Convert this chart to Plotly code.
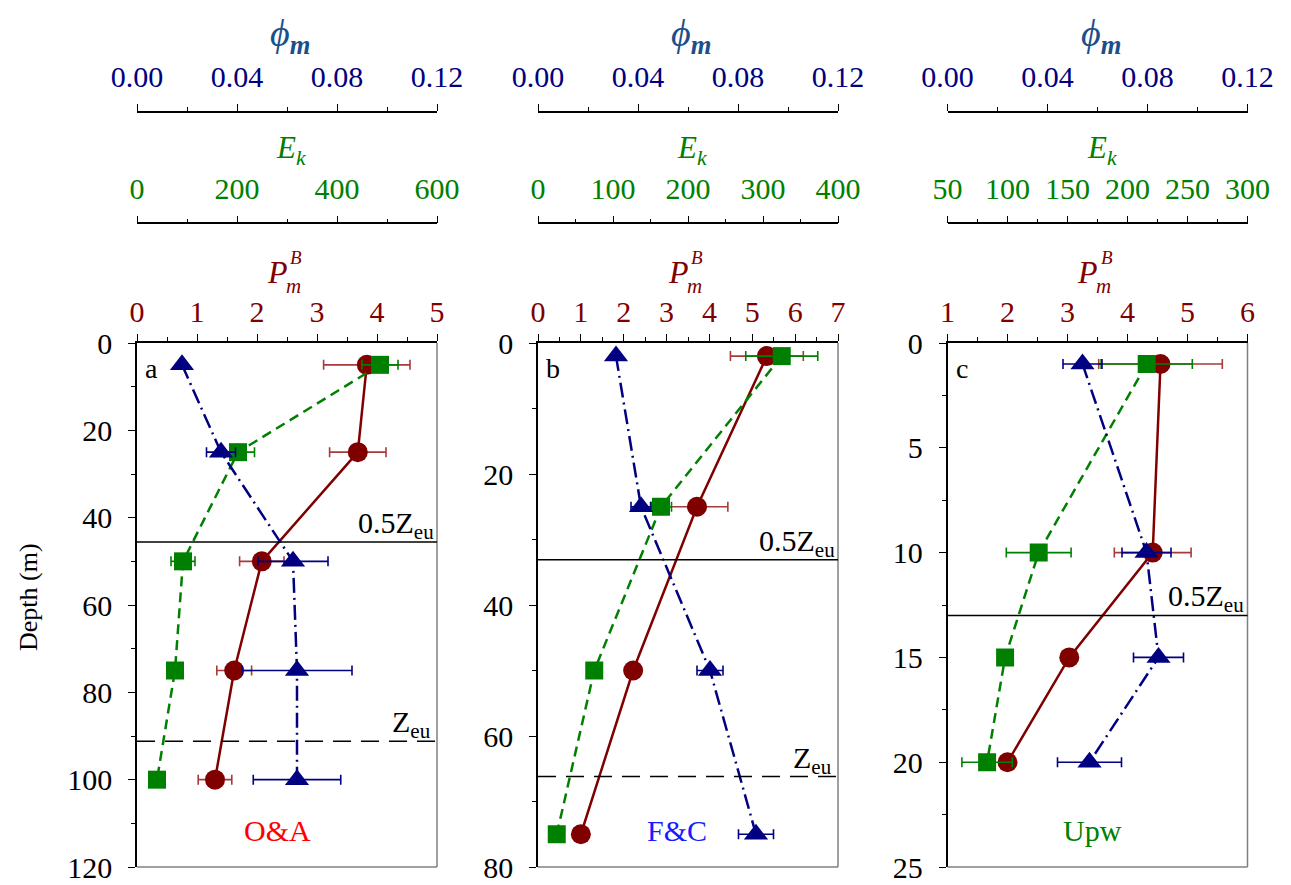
import plotly.graph_objects as go

# ---------------- data ----------------
# Panel a (O&A)
depth_a = [5, 25, 50, 75, 100]
pb_a = [3.83, 3.68, 2.08, 1.62, 1.30]
pb_a_err = [0.72, 0.47, 0.37, 0.29, 0.28]
ek_a = [486, 202, 92, 76, 40]
ek_a_err = [36, 33, 24, 0, 0]
phi_a = [0.018, 0.0336, 0.0624, 0.064, 0.064]
phi_a_err = [0, 0.0058, 0.014, 0.022, 0.0175]
zeu_a = 91.2

# Panel b (F&C)
depth_b = [2, 25, 50, 75]
pb_b = [5.34, 3.71, 2.22, 1.00]
pb_b_err = [0.85, 0.72, 0, 0]
ek_b = [325, 164, 75, 25]
ek_b_err = [48, 14, 0, 0]
phi_b = [0.0312, 0.0412, 0.0688, 0.0872]
phi_b_err = [0.0012, 0.004, 0.0052, 0.007]
zeu_b = 66.2

# Panel c (Upw)
depth_c = [1, 10, 15, 20]
pb_c = [4.55, 4.42, 3.03, 2.00]
pb_c_err = [1.03, 0.64, 0, 0]
ek_c = [216, 126, 98, 83]
ek_c_err = [38, 27, 0, 21]
phi_c = [0.054, 0.0796, 0.0844, 0.0568]
phi_c_err = [0.0078, 0.0098, 0.010, 0.0128]
zeu_c = 26.0

panel_letters = ["a", "b", "c"]
panel_names = ["O&A", "F&C", "Upw"]

# ---------------- style ----------------
W, H = 1291, 885
FONT = "Liberation Serif"
RED, GREEN, BLUE = "#800000", "#008000", "#000080"
RED_ERR = "#a83a3a"
TICK_SIZE = 30

def px(x):
    return x / W

def py(y):
    return 1 - y / H

panels = [
    dict(depth=depth_a, pb=pb_a, pbe=pb_a_err, ek=ek_a, eke=ek_a_err, phi=phi_a, phie=phi_a_err,
         zeu=zeu_a, x0=137, x1=437, prange=[0, 5], erange=[0, 600], edtick=200, eminor=100,
         yrange=[120, 0], ydtick=20, yminor=10, name_color="#ff0000", name_x=0.467),
    dict(depth=depth_b, pb=pb_b, pbe=pb_b_err, ek=ek_b, eke=ek_b_err, phi=phi_b, phie=phi_b_err,
         zeu=zeu_b, x0=538, x1=838, prange=[0, 7], erange=[0, 400], edtick=100, eminor=50,
         yrange=[80, 0], ydtick=20, yminor=10, name_color="#1a1aff", name_x=0.463),
    dict(depth=depth_c, pb=pb_c, pbe=pb_c_err, ek=ek_c, eke=ek_c_err, phi=phi_c, phie=phi_c_err,
         zeu=zeu_c, x0=947.5, x1=1247.5, prange=[1, 6], erange=[50, 300], edtick=50, eminor=25,
         yrange=[25, 0], ydtick=5, yminor=2.5, name_color="#008000", name_x=0.483),
]

ydom = [18 / H, 1 - 343 / H]
EK_POS = 1 - 223.3 / H
PHI_POS = 1 - 111.7 / H

fig = go.Figure()
layout = dict(
    width=W, height=H, margin=dict(l=0, r=0, t=0, b=0, autoexpand=False),
    paper_bgcolor="white", plot_bgcolor="white", showlegend=False,
    font=dict(family=FONT, size=28, color="black"),
)
annotations = []
shapes = []

def axid(n):
    return "x" if n == 1 else f"x{n}"

for k, p in enumerate(panels):
    b = 3 * k + 1
    xa, xe, xp = axid(b), axid(b + 1), axid(b + 2)
    ya = "y" if k == 0 else f"y{k + 1}"
    dom = [px(p["x0"]), px(p["x1"])]

    fig.add_trace(go.Scatter(
        x=p["pb"], y=p["depth"], xaxis=xa, yaxis=ya, mode="lines+markers",
        line=dict(color=RED, width=2.5),
        marker=dict(symbol="circle", size=20, color=RED),
        error_x=dict(type="data", array=p["pbe"], color=RED_ERR, thickness=1.6, width=5),
    ))
    fig.add_trace(go.Scatter(
        x=p["ek"], y=p["depth"], xaxis=xe, yaxis=ya, mode="lines+markers",
        line=dict(color=GREEN, width=2.5, dash="10px,6px"),
        marker=dict(symbol="square", size=18, color=GREEN),
        error_x=dict(type="data", array=p["eke"], color=GREEN, thickness=1.6, width=5),
    ))
    fig.add_trace(go.Scatter(
        x=p["phi"], y=p["depth"], xaxis=xp, yaxis=ya, mode="lines+markers",
        line=dict(color=BLUE, width=2.5, dash="15px,5px,2px,5px"),
        marker=dict(symbol="triangle-up", size=21, color=BLUE),
        error_x=dict(type="data", array=p["phie"], color=BLUE, thickness=1.6, width=5),
    ))

    common = dict(domain=dom, side="top", showline=True, linecolor="black", linewidth=1.5,
                  ticks="outside", tickcolor="black", ticklen=7, tickwidth=1.3,
                  automargin=False, showgrid=False, zeroline=False, fixedrange=True)
    lay_x = "xaxis" if b == 1 else f"xaxis{b}"
    layout[lay_x] = dict(common, anchor=ya, range=p["prange"], dtick=1, tick0=0,
                         ticklabelstandoff=0,
                         tickfont=dict(family=FONT, color=RED, size=TICK_SIZE),
                         minor=dict(dtick=0.5, ticklen=4, ticks="outside", tickcolor="black", showgrid=False))
    layout[f"xaxis{b + 1}"] = dict(common, anchor="free", overlaying=xa, position=EK_POS,
                                   range=p["erange"], dtick=p["edtick"], tick0=0,
                                   ticklabelstandoff=5,
                                   tickfont=dict(family=FONT, color=GREEN, size=TICK_SIZE),
                                   minor=dict(dtick=p["eminor"], ticklen=4, ticks="outside",
                                              tickcolor="black", showgrid=False))
    layout[f"xaxis{b + 2}"] = dict(common, anchor="free", overlaying=xa, position=PHI_POS,
                                   range=[0, 0.12], dtick=0.04, tick0=0, tickformat=".2f",
                                   ticklabelstandoff=5,
                                   tickfont=dict(family=FONT, color=BLUE, size=TICK_SIZE),
                                   minor=dict(dtick=0.02, ticklen=4, ticks="outside",
                                              tickcolor="black", showgrid=False))
    lay_y = "yaxis" if k == 0 else f"yaxis{k + 1}"
    layout[lay_y] = dict(domain=ydom, anchor=xa, range=p["yrange"], dtick=p["ydtick"], tick0=0,
                         showline=True, linecolor="black", linewidth=1.5,
                         ticks="outside", tickcolor="black", ticklen=7, tickwidth=1.3,
                         ticklabelstandoff=10, automargin=False,
                         minor=dict(dtick=p["yminor"], ticklen=4, ticks="outside", tickcolor="black",
                                    showgrid=False),
                         showgrid=False, zeroline=False, fixedrange=True,
                         tickfont=dict(family=FONT, color="black", size=TICK_SIZE))

    # right & bottom frame (grey)
    shapes.append(dict(type="line", xref=f"{xa} domain", yref=f"{ya} domain",
                       x0=1, x1=1, y0=0, y1=1, line=dict(color="#808080", width=1.5)))
    shapes.append(dict(type="line", xref=f"{xa} domain", yref=f"{ya} domain",
                       x0=0, x1=1, y0=0, y1=0, line=dict(color="#808080", width=1.5)))
    # euphotic lines
    half = p["zeu"] / 2
    shapes.append(dict(type="line", xref=f"{xa} domain", yref=ya, x0=0, x1=1, y0=half, y1=half,
                       line=dict(color="black", width=1.5)))
    annotations.append(dict(xref=f"{xa} domain", yref=ya, x=0.995, y=half, xanchor="right",
                            yanchor="bottom", showarrow=False, yshift=-4,
                            text="0.5Z<sub>eu</sub>", font=dict(family=FONT, size=30, color="black")))
    if p["zeu"] < p["yrange"][0]:
        shapes.append(dict(type="line", xref=f"{xa} domain", yref=ya, x0=0, x1=1,
                           y0=p["zeu"], y1=p["zeu"],
                           line=dict(color="black", width=1.5, dash="18px,10px")))
        annotations.append(dict(xref=f"{xa} domain", yref=ya, x=0.985, y=p["zeu"], xanchor="right",
                                yanchor="bottom", showarrow=False, yshift=-4,
                                text="Z<sub>eu</sub>", font=dict(family=FONT, size=30, color="black")))
    # panel letter and name
    annotations.append(dict(xref=f"{xa} domain", yref=f"{ya} domain", x=0.02, y=0.985,
                            xanchor="left", yanchor="top", showarrow=False,
                            text=panel_letters[k], font=dict(family=FONT, size=28, color="black")))
    annotations.append(dict(xref=f"{xa} domain", yref=f"{ya} domain", x=p["name_x"], y=0.07,
                            xanchor="center", yanchor="middle", showarrow=False,
                            text=panel_names[k], font=dict(family=FONT, size=30, color=p["name_color"])))
    # axis titles
    cx = (p["x0"] + p["x1"]) / 2
    annotations.append(dict(xref="paper", yref="paper", x=px(cx + 3), y=py(36),
                            xanchor="center", yanchor="middle", showarrow=False,
                            text="<i>ϕ</i><sub><b><i>m</i></b></sub>",
                            font=dict(family=FONT, size=38, color="#1a4f8a")))
    annotations.append(dict(xref="paper", yref="paper", x=px(cx + 4), y=py(150),
                            xanchor="center", yanchor="middle", showarrow=False,
                            text="<i>E<sub>k</sub></i>", font=dict(family=FONT, size=31, color=GREEN)))
    annotations.append(dict(xref="paper", yref="paper", x=px(cx - 10), y=py(272),
                            xanchor="center", yanchor="middle", showarrow=False,
                            text="<i>P</i>", font=dict(family=FONT, size=32, color=RED)))
    annotations.append(dict(xref="paper", yref="paper", x=px(cx + 9), y=py(257),
                            xanchor="center", yanchor="middle", showarrow=False,
                            text="<i>B</i>", font=dict(family=FONT, size=19, color=RED)))
    annotations.append(dict(xref="paper", yref="paper", x=px(cx + 6), y=py(286),
                            xanchor="center", yanchor="middle", showarrow=False,
                            text="<i>m</i>", font=dict(family=FONT, size=21, color=RED)))

annotations.append(dict(xref="paper", yref="paper", x=px(28), y=py(597),
                        xanchor="center", yanchor="middle", showarrow=False, textangle=-90,
                        text="Depth (m)", font=dict(family=FONT, size=26, color="black")))

layout["annotations"] = annotations
layout["shapes"] = shapes
fig.update_layout(**layout)
fig.write_html("out.html")
